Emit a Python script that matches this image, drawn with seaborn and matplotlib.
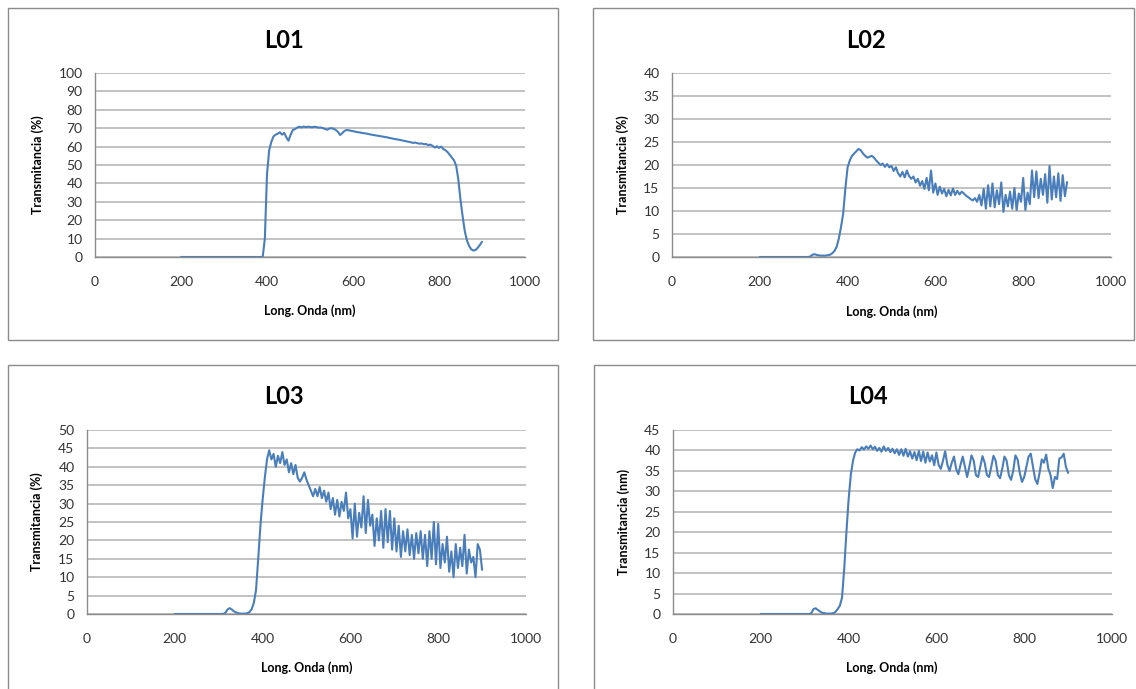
import numpy as np
import matplotlib
matplotlib.use("Agg")
import matplotlib.pyplot as plt
from matplotlib.patches import Rectangle
import seaborn as sns

# ---------------- data ----------------
wavelength = np.arange(200, 901, 5)  # nm, sampling grid

titles = ["L01", "L02", "L03", "L04"]
ylabels = ["Transmitancia (%)", "Transmitancia (%)", "Transmitancia (%)", "Transmitancia (nm)"]
x_label = "Long. Onda (nm)"
x_ticks = [0, 200, 400, 600, 800, 1000]

t_L01 = [
    0, 0, 0, 0, 0, 0, 0, 0, 0, 0, 0, 0, 0, 0, 0, 0, 0, 0, 0, 0,          # 200-295
    0, 0, 0, 0, 0, 0, 0, 0, 0, 0,                                        # 300-345
    0, 0, 0, 0, 0, 0, 0, 0, 0, 10,                                       # 350-395
    45, 58, 62.5, 65.5, 66.5, 67, 67.8, 66.5, 67.5, 65,                  # 400-445
    63.2, 66.5, 69, 69.5, 70.3, 70.8, 70.4, 70.9, 70.6, 70.8,            # 450-495
    70.7, 70.5, 70.8, 70.6, 70.3, 70.4, 70.0, 69.6, 69.2, 69.8,          # 500-545
    70.0, 69.7, 69.0, 68.0, 66.3, 67.3, 68.5, 69.0, 68.9, 68.6,          # 550-595
    68.4, 68.1, 67.9, 67.7, 67.5, 67.3, 67.1, 66.9, 66.6, 66.4,          # 600-645
    66.2, 66.0, 65.8, 65.6, 65.4, 65.2, 65.0, 64.7, 64.5, 64.2,          # 650-695
    64.0, 63.8, 63.6, 63.3, 63.1, 62.8, 62.6, 62.3, 62.0, 62.2,          # 700-745
    61.8, 61.6, 61.7, 61.3, 61.4, 60.8, 61.1, 60.4, 59.5, 60.2,          # 750-795
    59.3, 60.0, 58.7, 58.0, 57.0, 55.5, 54.0, 52.5, 49.5, 42,            # 800-845
    31, 22, 14, 9, 6, 4.2, 3.5, 3.8, 5, 6.5,                             # 850-895
    8.3,                                                                 # 900
]

t_L02 = [
    0, 0, 0, 0, 0, 0, 0, 0, 0, 0, 0, 0, 0, 0, 0, 0, 0, 0, 0, 0,
    0, 0, 0, 0.1, 0.5, 0.6, 0.45, 0.35, 0.3, 0.3,
    0.3, 0.4, 0.5, 0.8, 1.3, 2.2, 4.0, 6.5, 9.5, 15,
    19.5, 21, 22, 22.5, 23, 23.5, 23.2, 22.5, 22, 21.6,
    21.8, 22, 21.6, 21, 20.5, 20, 20.3, 19.6, 20.2, 19.5,
    19.8, 18.7, 19.5, 18.2, 17.5, 18.5, 17.3, 18.8, 17.6, 17.0,
    17.5, 16.2, 17.0, 15.5, 16.5, 14.8, 17.2, 14.5, 18.8, 14.0,
    16.0, 13.5, 15.3, 13.8, 14.8, 13.2, 14.6, 13.4, 14.9, 13.5,
    14.4, 13.6, 14.2, 13.8, 13.3, 13.0, 12.6, 12.3, 12.8, 12.0,
    13.5, 11.2, 14.8, 10.5, 15.6, 11.0, 16.0, 10.8, 14.5, 11.5,
    16.2, 9.8, 13.5, 11.0, 14.2, 10.5, 15.0, 10.2, 13.8, 12.0,
    17.2, 10.2, 14.0, 11.5, 18.8, 13.0, 18.6, 12.8, 17.0, 13.5,
    18.0, 11.8, 19.8, 12.5, 17.5, 13.0, 18.2, 12.2, 17.8, 13.2,
    16.3,
]

t_L03 = [
    0, 0, 0, 0, 0, 0, 0, 0, 0, 0, 0, 0, 0, 0, 0, 0, 0, 0, 0, 0,
    0, 0, 0, 0.3, 1.2, 1.6, 1.2, 0.7, 0.4, 0.2,
    0.1, 0.1, 0.1, 0.2, 0.5, 1.3, 3, 6.5, 15, 24,
    31, 37, 42, 44.5, 42, 43.5, 40, 43, 41, 44,
    40.5, 42, 38.5, 41, 38, 40.5, 37, 36, 37, 38.5,
    36.5, 35, 33.5, 32, 34, 32, 34.5, 31.5, 33.5, 30.5,
    33, 28.5, 31.5, 27, 31, 26.5, 30.5, 28, 33, 26,
    28.5, 20.5, 30, 21, 27.5, 23.5, 32, 22, 31, 24,
    27, 18.5, 26, 20, 28, 18, 28.5, 19.5, 28, 17.5,
    26, 17, 24, 15.5, 22.5, 17, 23, 16, 21.5, 15,
    22, 16.5, 22.5, 15, 21.5, 13, 22.5, 15, 25, 13.5,
    24.5, 12.5, 19, 14, 21, 11.5, 17, 10, 19, 12.5,
    18, 13, 21.5, 11, 17.5, 14, 15.5, 10, 19, 17.5,
    12,
]

t_L04 = [
    0, 0, 0, 0, 0, 0, 0, 0, 0, 0, 0, 0, 0, 0, 0, 0, 0, 0, 0, 0,
    0, 0, 0, 0.2, 1.2, 1.4, 1.0, 0.6, 0.3, 0.2,
    0.1, 0.1, 0.1, 0.2, 0.5, 1.2, 2.0, 4, 11, 20,
    28, 34, 37.5, 39.5, 40.3, 40.0, 40.8, 40.2, 41.0, 40.4,
    41.2, 40.3, 40.9, 39.9, 40.6, 39.7, 41.0, 39.9, 40.6, 39.6,
    40.4, 39.3, 40.3, 38.9, 40.3, 38.7, 40.4, 38.5, 39.8, 38.0,
    39.6, 37.6, 39.9, 37.4, 39.7, 37.0, 39.5, 37.3, 38.8, 36.4,
    39.5, 36.5, 35.5, 37.5, 39.8, 36.5, 35.0, 37.0, 38.5, 35.5,
    34.2, 36.5, 38.5, 36.0, 33.5, 36.0, 38.8, 37.5, 34.0, 33.5,
    36.0, 38.6, 37.0, 34.0, 33.5, 36.0, 38.7, 37.5, 34.0, 33.2,
    35.5, 38.5, 37.5, 34.0, 32.8, 35.0, 38.8, 37.8, 34.5, 32.3,
    33.5, 36.0, 38.5, 39.2, 36.0, 33.0, 31.8, 34.5, 37.8, 37.0,
    39.0, 35.5, 34.0, 30.8, 33.5, 33.0, 38.0, 38.3, 39.2, 36.0,
    34.5,
]

y_max = [100, 40, 50, 45]
y_step = [10, 5, 5, 5]
series = [t_L01, t_L02, t_L03, t_L04]

# ---------------- layout (pixels) ----------------
W, H = 1136, 689
# plot area: left, right, top, bottom
plot_px = [(95, 525, 73, 257), (672, 1111, 73, 257),
           (87, 526, 430, 614), (673, 1112, 430, 614)]
# chart border box: x0, y0, x1, y1
box_px = [(8, 8, 558, 340), (593, 8, 1134, 340),
          (8, 365, 558, 700), (594, 365, 1145, 700)]
title_px = [(284, 40), (866, 40), (284, 396), (868, 396)]
ylab_px = [(38, 165), (623, 165), (37, 522), (624, 522)]
xlab_px = [(310, 311), (892, 312), (307, 668), (892, 668)]

LINE = "#4a7ebb"
GRID = "#b8b8b8"
AXC = "#8c8c8c"
TXT = "#333333"

sns.set_style("white")
plt.rcParams['font.family'] = ['Lato', 'DejaVu Sans']

fig = plt.figure(figsize=(W / 100, H / 100), dpi=100)
fig.patch.set_facecolor("white")

for i in range(4):
    vals = series[i]
    assert len(vals) == len(wavelength), (titles[i], len(vals))
    x0, y0, x1, y1 = box_px[i]
    fig.add_artist(Rectangle((x0 / W, 1 - y1 / H), (x1 - x0) / W, (y1 - y0) / H,
                             transform=fig.transFigure, fill=False,
                             edgecolor=AXC, linewidth=1.0))
    l, r, t, b = plot_px[i]
    ax = fig.add_axes([l / W, 1 - b / H, (r - l) / W, (b - t) / H])
    ax.set_facecolor("none")
    sns.lineplot(x=wavelength, y=vals, ax=ax, color=LINE, linewidth=1.5,
                 estimator=None)
    ax.set_xlim(0, 1000)
    ax.set_ylim(0, y_max[i])
    ax.set_xticks(x_ticks)
    ax.set_yticks(np.arange(0, y_max[i] + 1, y_step[i]))
    ax.yaxis.grid(True, color=GRID, linewidth=1.2)
    ax.xaxis.grid(False)
    ax.set_axisbelow(True)
    for s in ("top", "right"):
        ax.spines[s].set_visible(False)
    for s in ("left", "bottom"):
        ax.spines[s].set_color(AXC)
        ax.spines[s].set_linewidth(1.0)
    ax.tick_params(axis="x", direction="out", length=5, width=1, color=AXC,
                   pad=9, labelsize=10, labelcolor=TXT)
    ax.tick_params(axis="y", direction="out", length=4, width=1, color=AXC,
                   pad=5, labelsize=10, labelcolor=TXT)
    ax.set_xlabel("")
    ax.set_ylabel("")

    tx, ty = title_px[i]
    fig.text(tx / W, 1 - ty / H, titles[i], ha="center", va="center",
             fontsize=17, fontweight="bold", color="black")
    yx, yy = ylab_px[i]
    fig.text(yx / W, 1 - yy / H, ylabels[i], ha="center", va="center",
             rotation=90, fontsize=9, fontweight="bold", color="black")
    xx, xy = xlab_px[i]
    fig.text(xx / W, 1 - xy / H, x_label, ha="center", va="center",
             fontsize=9, fontweight="bold", color="black")

fig.savefig("out.png", dpi=100)
